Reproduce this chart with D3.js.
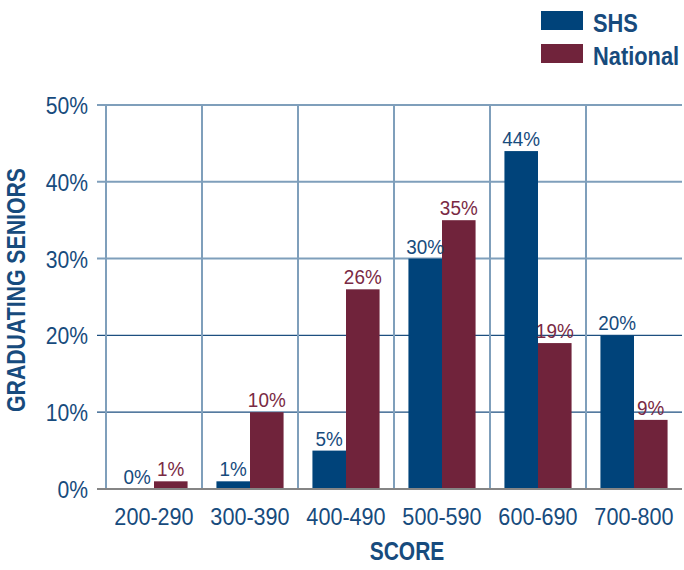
<!DOCTYPE html>
<html>
<head>
<meta charset="utf-8">
<script src="https://cdn.jsdelivr.net/npm/d3@7"></script>
<style>
  body { margin: 0; background: #fff; }
  svg text { font-family: "Liberation Sans", Arial, sans-serif; }
</style>
</head>
<body>
<svg id="chart"></svg>
<script>
// data
var categories = ["200-290", "300-390", "400-490", "500-590", "600-690", "700-800"];
var seriesNames = ["SHS", "National"];
var shsValues = [0, 1, 5, 30, 44, 20];
var nationalValues = [1, 10, 26, 35, 19, 9];
var yTicks = [0, 10, 20, 30, 40, 50];

var colors = { SHS: "#00437a", National: "#70233b" };
var textBlue = "#174b7d";
var lightGrid = "#7f9fbb";

var width = 684, height = 570;
var margin = { top: 105, right: 2, bottom: 81, left: 106 };
var plotW = width - margin.left - margin.right,
    plotH = height - margin.top - margin.bottom;

// squeeze text horizontally to mimic a condensed face
var condense = function(sel, sx) {
    sel.each(function() {
        var t = d3.select(this);
        var x = +t.attr("x") || 0;
        t.attr("x", x / sx).attr("transform", "scale(" + sx + ",1)");
    });
};

var svg = d3.select("#chart")
    .attr("width", width)
    .attr("height", height);

var g = svg.append("g")
    .attr("transform", "translate(" + margin.left + "," + margin.top + ")");

// scales
var x0 = d3.scaleBand().domain(categories).range([0, plotW]).padding(0);
var x1 = d3.scaleBand().domain(seriesNames).range([0, x0.bandwidth()])
    .paddingInner(0).paddingOuter(0.43);
var y = d3.scaleLinear().domain([0, 50]).range([plotH, 0]);

var rows = categories.map(function(c, i) {
    return { cat: c, SHS: shsValues[i], National: nationalValues[i] };
});

// horizontal grid lines (lower ones thin & dark, upper ones light)
g.selectAll(".hgrid")
    .data(yTicks.filter(function(t) { return t > 0; }))
  .enter().append("line")
    .attr("class", "hgrid")
    .attr("x1", -9)
    .attr("x2", plotW)
    .attr("y1", function(d) { return y(d); })
    .attr("y2", function(d) { return y(d); })
    .attr("stroke", function(d) { return d <= 20 ? "#1d4f80" : lightGrid; })
    .attr("stroke-width", function(d) { return d <= 20 ? 1.3 : 2; });

// vertical grid lines at category edges
g.selectAll(".vgrid")
    .data(categories)
  .enter().append("line")
    .attr("class", "vgrid")
    .attr("x1", function(d) { return x0(d); })
    .attr("x2", function(d) { return x0(d); })
    .attr("y1", 0)
    .attr("y2", plotH)
    .attr("stroke", lightGrid)
    .attr("stroke-width", 2);

// bars
var groups = g.selectAll(".grp")
    .data(rows)
  .enter().append("g")
    .attr("class", "grp")
    .attr("transform", function(d) { return "translate(" + x0(d.cat) + ",0)"; });

var pairs = function(d) {
    return seriesNames.map(function(k) { return { key: k, value: d[k] }; });
};

groups.selectAll("rect")
    .data(pairs)
  .enter().append("rect")
    .attr("x", function(d) { return x1(d.key); })
    .attr("width", x1.bandwidth())
    .attr("y", function(d) { return y(d.value); })
    .attr("height", function(d) { return plotH - y(d.value); })
    .attr("fill", function(d) { return colors[d.key]; });

// value labels
groups.selectAll(".val")
    .data(pairs)
  .enter().append("text")
    .attr("class", "val")
    .attr("x", function(d) { return x1(d.key) + x1.bandwidth() / 2; })
    .attr("y", function(d) { return y(d.value) - 5; })
    .attr("text-anchor", "middle")
    .style("font-size", "21px")
    .attr("fill", function(d) { return d.key === "SHS" ? textBlue : "#7a2a44"; })
    .text(function(d) { return d.value + "%"; })
    .call(condense, 0.9);

// baseline
g.append("line")
    .attr("x1", -9)
    .attr("x2", plotW)
    .attr("y1", plotH)
    .attr("y2", plotH)
    .attr("stroke", "#858585")
    .attr("stroke-width", 2);

// y axis labels
var yAxis = g.append("g")
    .call(d3.axisLeft(y).tickValues(yTicks).tickSize(0).tickPadding(18)
        .tickFormat(function(d) { return d + "%"; }));
yAxis.select(".domain").remove();
yAxis.selectAll("text")
    .style("font-size", "24px")
    .attr("fill", textBlue)
    .attr("dy", "0.35em")
    .call(condense, 0.88);

// x axis labels
var xAxis = g.append("g")
    .attr("transform", "translate(0," + plotH + ")")
    .call(d3.axisBottom(x0).tickSize(0).tickPadding(19));
xAxis.select(".domain").remove();
xAxis.selectAll("text")
    .style("font-size", "24px")
    .attr("fill", textBlue)
    .call(condense, 0.9);

// axis titles
svg.append("text")
    .attr("transform", "translate(25,290) rotate(-90) scale(0.85,1)")
    .attr("text-anchor", "middle")
    .style("font-size", "25px")
    .style("font-weight", "bold")
    .attr("fill", textBlue)
    .text("GRADUATING SENIORS");

svg.append("text")
    .attr("x", 407)
    .attr("y", 560)
    .attr("text-anchor", "middle")
    .style("font-size", "25px")
    .style("font-weight", "bold")
    .attr("fill", textBlue)
    .text("SCORE")
    .call(condense, 0.84);

// legend
var legend = svg.append("g").attr("transform", "translate(541,11)");
var li = legend.selectAll(".li")
    .data(seriesNames)
  .enter().append("g")
    .attr("transform", function(d, i) { return "translate(0," + (i * 33) + ")"; });
li.append("rect")
    .attr("width", 42)
    .attr("height", 19)
    .attr("fill", function(d) { return colors[d]; });
li.append("text")
    .attr("x", 52)
    .attr("y", 20.5)
    .style("font-size", "26px")
    .style("font-weight", "bold")
    .attr("fill", textBlue)
    .text(function(d) { return d; })
    .call(condense, 0.84);
</script>
</body>
</html>
